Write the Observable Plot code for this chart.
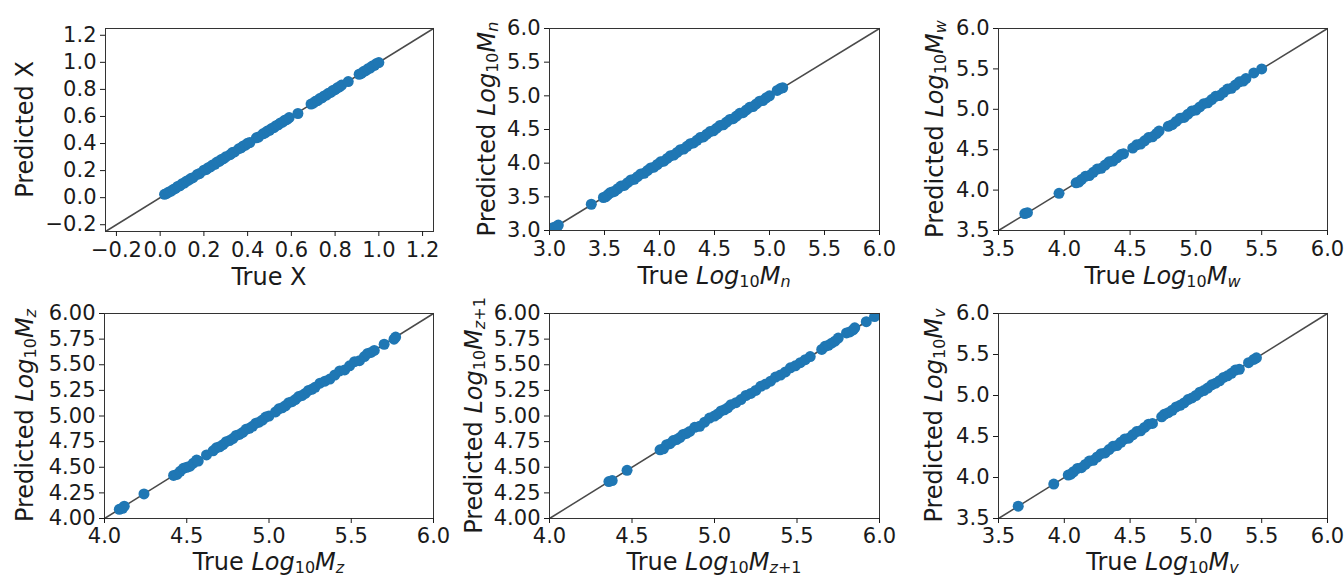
<!DOCTYPE html>
<html>
<head>
<meta charset="utf-8">
<script src="https://cdn.jsdelivr.net/npm/d3@7"></script>
<script src="https://cdn.jsdelivr.net/npm/@observablehq/plot@0.6"></script>
<style>
  html, body { margin: 0; padding: 0; background: #fff; }
  #wrap { position: relative; width: 1344px; height: 577px; overflow: hidden; background: #fff; }
  .cell { position: absolute; }
  .cell svg { overflow: visible; }
</style>
</head>
<body>
<div id="wrap"></div>
<script>
// ---------------- DATA: [true, predicted] ----------------
const pointsX = [[0.02,0.025],[0.03,0.031],[0.04,0.042],[0.05,0.048],[0.06,0.061],[0.07,0.068],[0.08,0.083],[0.09,0.088],[0.10,0.102],[0.11,0.108],[0.12,0.122],[0.13,0.129],[0.14,0.141],[0.15,0.148],[0.17,0.172],[0.18,0.178],[0.20,0.203],[0.21,0.208],[0.22,0.221],[0.23,0.228],[0.24,0.242],[0.25,0.247],[0.26,0.263],[0.27,0.268],[0.28,0.282],[0.29,0.288],[0.30,0.302],[0.32,0.318],[0.33,0.333],[0.34,0.338],[0.36,0.362],[0.37,0.368],[0.38,0.382],[0.39,0.388],[0.40,0.402],[0.41,0.407],[0.44,0.442],[0.45,0.448],[0.47,0.472],[0.48,0.478],[0.49,0.492],[0.50,0.498],[0.51,0.512],[0.52,0.518],[0.53,0.532],[0.54,0.538],[0.55,0.552],[0.56,0.558],[0.57,0.572],[0.58,0.578],[0.59,0.592],[0.63,0.622],[0.69,0.692],[0.70,0.698],[0.71,0.712],[0.72,0.718],[0.73,0.732],[0.74,0.738],[0.75,0.752],[0.76,0.758],[0.77,0.772],[0.78,0.778],[0.79,0.792],[0.80,0.798],[0.81,0.812],[0.82,0.818],[0.83,0.832],[0.86,0.858],[0.91,0.912],[0.92,0.918],[0.93,0.932],[0.94,0.938],[0.95,0.952],[0.96,0.958],[0.97,0.972],[0.98,0.978],[0.99,0.992],[1.00,0.998]];

const pointsMn = [[3.03,3.04],[3.05,3.05],[3.07,3.06],[3.08,3.08],[3.38,3.39],[3.49,3.49],[3.51,3.50],[3.53,3.53],[3.55,3.56],[3.57,3.57],[3.59,3.58],[3.62,3.62],[3.65,3.66],[3.68,3.67],[3.71,3.71],[3.74,3.75],[3.77,3.76],[3.80,3.80],[3.83,3.84],[3.86,3.85],[3.89,3.89],[3.92,3.93],[3.95,3.94],[3.98,3.98],[4.01,4.02],[4.04,4.03],[4.07,4.07],[4.10,4.11],[4.13,4.12],[4.16,4.16],[4.19,4.20],[4.22,4.21],[4.25,4.25],[4.28,4.29],[4.31,4.30],[4.34,4.34],[4.37,4.38],[4.40,4.39],[4.43,4.43],[4.46,4.47],[4.49,4.48],[4.52,4.52],[4.55,4.56],[4.58,4.57],[4.61,4.61],[4.64,4.65],[4.67,4.66],[4.70,4.70],[4.73,4.74],[4.76,4.75],[4.79,4.79],[4.82,4.83],[4.85,4.84],[4.88,4.88],[4.91,4.92],[4.94,4.93],[4.97,4.97],[5.00,5.00],[5.07,5.08],[5.10,5.11],[5.12,5.12]];

const pointsMw = [[3.70,3.71],[3.72,3.72],[3.96,3.96],[4.09,4.09],[4.11,4.10],[4.13,4.13],[4.16,4.17],[4.19,4.18],[4.22,4.22],[4.25,4.26],[4.28,4.27],[4.31,4.31],[4.34,4.35],[4.37,4.36],[4.40,4.40],[4.43,4.44],[4.45,4.45],[4.52,4.52],[4.55,4.56],[4.58,4.57],[4.61,4.61],[4.64,4.65],[4.67,4.66],[4.70,4.70],[4.72,4.73],[4.79,4.79],[4.82,4.81],[4.85,4.85],[4.88,4.89],[4.91,4.90],[4.94,4.94],[4.97,4.98],[5.00,4.99],[5.03,5.03],[5.06,5.07],[5.09,5.08],[5.12,5.12],[5.15,5.16],[5.18,5.17],[5.21,5.21],[5.24,5.25],[5.27,5.26],[5.30,5.30],[5.33,5.34],[5.36,5.35],[5.38,5.38],[5.44,5.45],[5.50,5.50]];

const pointsMz = [[4.09,4.09],[4.11,4.10],[4.12,4.12],[4.24,4.24],[4.42,4.42],[4.44,4.43],[4.46,4.46],[4.48,4.49],[4.50,4.50],[4.52,4.51],[4.54,4.54],[4.56,4.57],[4.57,4.56],[4.62,4.62],[4.66,4.66],[4.68,4.69],[4.70,4.70],[4.72,4.72],[4.74,4.75],[4.76,4.76],[4.78,4.78],[4.80,4.81],[4.82,4.82],[4.84,4.84],[4.86,4.87],[4.88,4.88],[4.90,4.90],[4.92,4.93],[4.94,4.94],[4.96,4.96],[4.98,4.99],[5.00,5.00],[5.04,5.04],[5.06,5.07],[5.08,5.08],[5.10,5.10],[5.12,5.13],[5.14,5.14],[5.16,5.16],[5.18,5.19],[5.20,5.20],[5.22,5.22],[5.24,5.25],[5.26,5.26],[5.28,5.28],[5.31,5.32],[5.34,5.34],[5.37,5.36],[5.40,5.40],[5.43,5.44],[5.46,5.45],[5.49,5.49],[5.52,5.53],[5.55,5.54],[5.58,5.58],[5.60,5.61],[5.62,5.62],[5.64,5.64],[5.70,5.70],[5.76,5.75],[5.77,5.77]];

const pointsMz1 = [[4.36,4.36],[4.38,4.37],[4.47,4.47],[4.67,4.67],[4.69,4.68],[4.71,4.72],[4.73,4.73],[4.75,4.76],[4.77,4.77],[4.79,4.79],[4.81,4.82],[4.83,4.83],[4.85,4.85],[4.88,4.89],[4.91,4.90],[4.94,4.94],[4.97,4.98],[5.00,5.00],[5.02,5.02],[5.04,5.05],[5.06,5.06],[5.08,5.08],[5.10,5.11],[5.13,5.13],[5.16,5.16],[5.19,5.20],[5.22,5.22],[5.25,5.25],[5.28,5.29],[5.31,5.31],[5.34,5.34],[5.37,5.38],[5.40,5.40],[5.43,5.43],[5.46,5.47],[5.49,5.49],[5.52,5.52],[5.55,5.55],[5.58,5.58],[5.65,5.65],[5.67,5.68],[5.69,5.69],[5.71,5.71],[5.73,5.73],[5.75,5.76],[5.80,5.81],[5.82,5.82],[5.84,5.84],[5.85,5.86],[5.92,5.92],[5.97,5.97],[5.99,6.00]];

const pointsMv = [[3.65,3.65],[3.92,3.92],[4.03,4.03],[4.05,4.04],[4.07,4.07],[4.10,4.11],[4.13,4.12],[4.16,4.16],[4.19,4.20],[4.22,4.21],[4.25,4.25],[4.28,4.29],[4.31,4.30],[4.34,4.34],[4.37,4.38],[4.40,4.39],[4.43,4.43],[4.46,4.47],[4.49,4.48],[4.52,4.52],[4.55,4.56],[4.58,4.57],[4.61,4.61],[4.64,4.65],[4.67,4.66],[4.74,4.74],[4.76,4.77],[4.79,4.79],[4.82,4.82],[4.85,4.86],[4.88,4.88],[4.91,4.91],[4.94,4.95],[4.97,4.97],[5.00,5.00],[5.03,5.04],[5.06,5.06],[5.09,5.09],[5.12,5.13],[5.15,5.15],[5.18,5.18],[5.21,5.22],[5.24,5.24],[5.27,5.27],[5.30,5.31],[5.33,5.32],[5.40,5.40],[5.44,5.44],[5.46,5.46]];

// ---------------- AXES: domains & ticks ----------------
const domainX = [-0.25, 1.25];
const domainMn = [3.0, 6.0];
const domainMw = [3.5, 6.0];
const domainMz = [4.0, 6.0];
const domainMz1 = [4.0, 6.0];
const domainMv = [3.5, 6.0];

const ticksX = [-0.2, 0.0, 0.2, 0.4, 0.6, 0.8, 1.0, 1.2];
const ticksMn = [3.0, 3.5, 4.0, 4.5, 5.0, 5.5, 6.0];
const ticksMw = [3.5, 4.0, 4.5, 5.0, 5.5, 6.0];
const ticksMzX = [4.0, 4.5, 5.0, 5.5, 6.0];
const ticksMzY = [4.00, 4.25, 4.50, 4.75, 5.00, 5.25, 5.50, 5.75, 6.00];
const ticksMv = [3.5, 4.0, 4.5, 5.0, 5.5, 6.0];

// ---------------- LABELS (text parts: [text, style]) ----------------
// style: "" normal, "i" italic, "s" subscript, "si" italic subscript
const labelX_X = [["True X", ""]];
const labelY_X = [["Predicted X", ""]];
const labelX_Mn = [["True ", ""], ["Log", "i"], ["10", "s"], ["M", "i"], ["n", "si"]];
const labelY_Mn = [["Predicted ", ""], ["Log", "i"], ["10", "s"], ["M", "i"], ["n", "si"]];
const labelX_Mw = [["True ", ""], ["Log", "i"], ["10", "s"], ["M", "i"], ["w", "si"]];
const labelY_Mw = [["Predicted ", ""], ["Log", "i"], ["10", "s"], ["M", "i"], ["w", "si"]];
const labelX_Mz = [["True ", ""], ["Log", "i"], ["10", "s"], ["M", "i"], ["z", "si"]];
const labelY_Mz = [["Predicted ", ""], ["Log", "i"], ["10", "s"], ["M", "i"], ["z", "si"]];
const labelX_Mz1 = [["True ", ""], ["Log", "i"], ["10", "s"], ["M", "i"], ["z", "si"], ["+1", "s"]];
const labelY_Mz1 = [["Predicted ", ""], ["Log", "i"], ["10", "s"], ["M", "i"], ["z", "si"], ["+1", "s"]];
const labelX_Mv = [["True ", ""], ["Log", "i"], ["10", "s"], ["M", "i"], ["v", "si"]];
const labelY_Mv = [["Predicted ", ""], ["Log", "i"], ["10", "s"], ["M", "i"], ["v", "si"]];

// ---------------- LAYOUT ----------------
const FONT = "DejaVu Sans, Liberation Sans, sans-serif";
const TICK_FS = 21, LABEL_FS = 24;
const f1 = d3.format(".1f"), f2 = d3.format(".2f");

const panels = [
  {data: pointsX, domain: domainX, xt: ticksX, yt: ticksX, xf: f1, yf: f1, lx: labelX_X, ly: labelY_X,
   left: 0, top: 0, h: 288, ml: 105, mr: 15, mt: 28, mb: 57, yoff: 72, xoff: 54, xpad: 6},
  {data: pointsMn, domain: domainMn, xt: ticksMn, yt: ticksMn, xf: f1, yf: f1, lx: labelX_Mn, ly: labelY_Mn,
   left: 448, top: 0, h: 288, ml: 101, mr: 17, mt: 28, mb: 58, yoff: 54, xoff: 54, xpad: 6},
  {data: pointsMw, domain: domainMw, xt: ticksMw, yt: ticksMw, xf: f1, yf: f1, lx: labelX_Mw, ly: labelY_Mw,
   left: 896, top: 0, h: 288, ml: 102, mr: 17, mt: 28, mb: 58, yoff: 55, xoff: 54, xpad: 6},
  {data: pointsMz, domain: domainMz, xt: ticksMzX, yt: ticksMzY, xf: f1, yf: f2, lx: labelX_Mz, ly: labelY_Mz,
   left: 0, top: 288, h: 289, ml: 104, mr: 15, mt: 25, mb: 59, yoff: 71, xoff: 52, xpad: 5},
  {data: pointsMz1, domain: domainMz1, xt: ticksMzX, yt: ticksMzY, xf: f1, yf: f2, lx: labelX_Mz1, ly: labelY_Mz1,
   left: 448, top: 288, h: 289, ml: 101, mr: 17, mt: 25, mb: 59, yoff: 67, xoff: 52, xpad: 5},
  {data: pointsMv, domain: domainMv, xt: ticksMv, yt: ticksMv, xf: f1, yf: f1, lx: labelX_Mv, ly: labelY_Mv,
   left: 896, top: 288, h: 289, ml: 102, mr: 17, mt: 25, mb: 59, yoff: 56, xoff: 52, xpad: 5}
];

function richText(sel, parts) {
  const sub = Math.round(LABEL_FS * 0.68), shift = 3;
  let inSub = false;
  parts.forEach(([t, s]) => {
    const isSub = s.includes("s"), isIt = s.includes("i");
    const ts = sel.append("tspan").text(t);
    if (isIt) ts.attr("font-style", "italic");
    if (isSub) ts.attr("font-size", sub);
    if (isSub && !inSub) ts.attr("dy", shift);
    if (!isSub && inSub) ts.attr("dy", -shift);
    inSub = isSub;
  });
}

const wrap = d3.select("#wrap");
panels.forEach(p => {
  const W = 448;
  const diag = [{lo: p.domain[0], hi: p.domain[1]}];
  const svg = Plot.plot({
    width: W, height: p.h,
    marginLeft: p.ml, marginRight: p.mr, marginTop: p.mt, marginBottom: p.mb,
    style: {fontFamily: FONT, fontSize: TICK_FS + "px", color: "#1a1a1a", background: "transparent", overflow: "visible"},
    x: {domain: p.domain, label: null},
    y: {domain: p.domain, label: null},
    marks: [
      Plot.link(diag, {x1: "lo", y1: "lo", x2: "hi", y2: "hi", stroke: "#4a4a4a", strokeWidth: 1.5}),
      Plot.dot(p.data, {x: d => d[0], y: d => d[1], r: 5.5, fill: "#1f77b4", stroke: null, clip: true}),
      Plot.frame({stroke: "#333", strokeWidth: 1}),
      Plot.axisX({ticks: p.xt, tickFormat: p.xf, tickSize: 5, tickPadding: p.xpad, label: null, fontSize: TICK_FS}),
      Plot.axisY({ticks: p.yt, tickFormat: p.yf, tickSize: 5, tickPadding: 4, label: null, fontSize: TICK_FS})
    ]
  });
  const cell = wrap.append("div").attr("class", "cell")
    .style("left", p.left + "px").style("top", p.top + "px");
  cell.node().appendChild(svg);
  const s = d3.select(svg);
  const cx = p.ml + (W - p.ml - p.mr) / 2;
  const cy = p.mt + (p.h - p.mt - p.mb) / 2;
  const tx = s.append("text")
    .attr("x", cx).attr("y", p.h - p.mb + p.xoff)
    .attr("text-anchor", "middle").attr("font-size", LABEL_FS)
    .attr("font-family", FONT).attr("fill", "#1a1a1a");
  richText(tx, p.lx);
  const ty = s.append("text")
    .attr("transform", `translate(${p.ml - p.yoff},${cy}) rotate(-90)`)
    .attr("text-anchor", "middle").attr("font-size", LABEL_FS)
    .attr("font-family", FONT).attr("fill", "#1a1a1a");
  richText(ty, p.ly);
});
</script>
</body>
</html>
